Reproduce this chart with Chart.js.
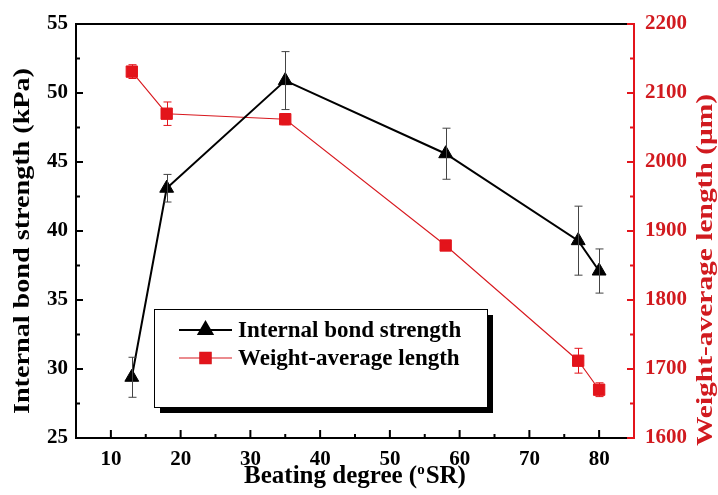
<!DOCTYPE html>
<html>
<head>
<meta charset="utf-8">
<script src="https://cdn.jsdelivr.net/npm/chart.js@4.4.1/dist/chart.umd.min.js"></script>
<style>
  html, body { margin: 0; padding: 0; background: #fff; }
  #wrap { width: 718px; height: 495px; }
</style>
</head>
<body>
<div id="wrap"><canvas id="chart" width="718" height="495"></canvas></div>
<script>
// donnees
var beating = [13, 18, 35, 58, 77, 80];
var bondStrength = [29.4, 43.1, 50.9, 45.6, 39.3, 37.1];
var bondErr = [1.45, 1.0, 2.1, 1.85, 2.5, 1.6];
var fiberLength = [2131, 2070, 2062, 1879, 1712, 1670];
var fiberErr = [10, 17, 8, 4, 18, 10];

var xTicks = [10, 20, 30, 40, 50, 60, 70, 80];
var leftTicks = [25, 30, 35, 40, 45, 50, 55];
var rightTicks = [1600, 1700, 1800, 1900, 2000, 2100, 2200];

var FONT = "'Liberation Serif', 'Times New Roman', serif";
var RED = '#e3141b';
var RED_TXT = '#d11a1f';

function pts(ys) {
    return beating.map(function(x, i) { return { x: x, y: ys[i] }; });
}

// barres d'erreur, traits de graduation vers l'interieur, cadre du haut
var decorations = {
    id: 'decorations',
    afterDatasetsDraw: function(chart) {
        var ctx = chart.ctx;
        var a = chart.chartArea;
        var sx = chart.scales.x, yl = chart.scales.y, yr = chart.scales.y1;

        function errBars(ys, errs, scale, color, cap) {
            ctx.save();
            ctx.strokeStyle = color;
            ctx.lineWidth = 1;
            ys.forEach(function(v, i) {
                var px = Math.round(sx.getPixelForValue(beating[i])) + 0.5;
                var top = scale.getPixelForValue(v + errs[i]);
                var bot = scale.getPixelForValue(v - errs[i]);
                ctx.beginPath();
                ctx.moveTo(px, top); ctx.lineTo(px, bot);
                ctx.moveTo(px - cap, top); ctx.lineTo(px + cap, top);
                ctx.moveTo(px - cap, bot); ctx.lineTo(px + cap, bot);
                ctx.stroke();
            });
            ctx.restore();
        }
        errBars(bondStrength, bondErr, yl, '#444', 4);
        errBars(fiberLength, fiberErr, yr, RED, 4);

        ctx.save();
        ctx.lineWidth = 2;
        // x ticks
        ctx.strokeStyle = '#000';
        ctx.beginPath();
        xTicks.forEach(function(v, i) {
            var p = sx.getPixelForValue(v);
            ctx.moveTo(p, a.bottom); ctx.lineTo(p, a.bottom - 8);
            var m = sx.getPixelForValue(v + 5);
            if (m < a.right - 2) { ctx.moveTo(m, a.bottom); ctx.lineTo(m, a.bottom - 4); }
        });
        // left ticks
        leftTicks.forEach(function(v, i) {
            var p = yl.getPixelForValue(v);
            ctx.moveTo(a.left, p); ctx.lineTo(a.left + 7, p);
            if (i < leftTicks.length - 1) {
                var m = yl.getPixelForValue(v + 2.5);
                ctx.moveTo(a.left, m); ctx.lineTo(a.left + 4, m);
            }
        });
        // top frame
        ctx.moveTo(a.left - 1, a.top); ctx.lineTo(a.right - 7, a.top);
        ctx.stroke();
        // right ticks
        ctx.strokeStyle = RED;
        ctx.beginPath();
        rightTicks.forEach(function(v, i) {
            var p = yr.getPixelForValue(v);
            ctx.moveTo(a.right, p); ctx.lineTo(a.right - 7, p);
            if (i < rightTicks.length - 1) {
                var m = yr.getPixelForValue(v + 50);
                ctx.moveTo(a.right, m); ctx.lineTo(a.right - 4, m);
            }
        });
        ctx.moveTo(a.right - 7, a.top); ctx.lineTo(a.right + 1, a.top);
        ctx.moveTo(a.right - 7, a.bottom); ctx.lineTo(a.right + 1, a.bottom);
        ctx.stroke();
        ctx.restore();
    }
};

// texte vertical etire a une longueur donnee
function vText(ctx, txt, cx, cy, len, color) {
    ctx.save();
    ctx.fillStyle = color;
    ctx.font = 'bold 23px ' + FONT;
    ctx.textAlign = 'center';
    ctx.textBaseline = 'middle';
    var w = ctx.measureText(txt).width;
    ctx.translate(cx, cy);
    ctx.rotate(-Math.PI / 2);
    ctx.scale(len / w, 1);
    ctx.fillText(txt, 0, 0);
    ctx.restore();
}

// titres des axes et legende encadree
var titlesAndLegend = {
    id: 'titlesAndLegend',
    afterDraw: function(chart) {
        var ctx = chart.ctx;
        var a = chart.chartArea;
        ctx.save();

        vText(ctx, 'Internal bond strength (kPa)', 23, 241, 346, '#000');
        vText(ctx, 'Weight-average length (\u03bcm)', 706, 270, 352, RED_TXT);

        // axe x avec exposant
        ctx.fillStyle = '#000';
        ctx.textAlign = 'left';
        ctx.textBaseline = 'alphabetic';
        var big = 'bold 25px ' + FONT, small = 'bold 15px ' + FONT;
        var p1 = 'Beating degree (', p3 = 'SR)';
        ctx.font = big;
        var w1 = ctx.measureText(p1).width, w3 = ctx.measureText(p3).width;
        ctx.font = small;
        var w2 = ctx.measureText('o').width + 1;
        var x0 = (a.left + a.right) / 2 - (w1 + w2 + w3) / 2;
        var base = 483;
        ctx.font = big;
        ctx.fillText(p1, x0, base);
        ctx.font = small;
        ctx.fillText('o', x0 + w1, base - 9);
        ctx.font = big;
        ctx.fillText(p3, x0 + w1 + w2, base);

        // legende
        var bx = 154, by = 309, bw = 333, bh = 98;
        ctx.fillStyle = '#000';
        ctx.fillRect(bx + 6, by + 6, bw, bh);
        ctx.fillStyle = '#fff';
        ctx.fillRect(bx, by, bw, bh);
        ctx.strokeStyle = '#000';
        ctx.lineWidth = 1;
        ctx.strokeRect(bx + 0.5, by + 0.5, bw, bh);

        chart.data.datasets.forEach(function(ds, i) {
            var yy = 330 + i * 28;
            ctx.strokeStyle = ds.borderColor;
            ctx.lineWidth = ds.borderWidth;
            ctx.beginPath();
            ctx.moveTo(179, yy); ctx.lineTo(232, yy);
            ctx.stroke();
            Chart.helpers.drawPoint(ctx, {
                pointStyle: ds.pointStyle,
                radius: ds.pointRadius,
                borderWidth: 1,
                rotation: 0
            }, 205.5, yy);
            ctx.fillStyle = ds.pointBackgroundColor;
            ctx.fill();
            ctx.fillStyle = '#000';
            ctx.font = 'bold 23px ' + FONT;
            ctx.textAlign = 'left';
            ctx.textBaseline = 'middle';
            ctx.fillText(ds.label, 238, yy + 1);
        });
        ctx.restore();
    }
};

var tickFont = { family: FONT, size: 21, weight: 'bold' };
function plain(v) { return String(v); }

var ctx = document.getElementById('chart').getContext('2d');
var chart = new Chart(ctx, {
    type: 'scatter',
    data: {
        datasets: [{
            label: 'Internal bond strength',
            data: pts(bondStrength),
            yAxisID: 'y',
            showLine: true,
            borderColor: '#000',
            borderWidth: 2,
            pointStyle: 'triangle',
            pointRadius: 8,
            pointBackgroundColor: '#000',
            pointBorderColor: '#000',
            pointBorderWidth: 1
        }, {
            label: 'Weight-average length',
            data: pts(fiberLength),
            yAxisID: 'y1',
            showLine: true,
            borderColor: '#d8191f',
            borderWidth: 1.1,
            pointStyle: 'rect',
            pointRadius: 8,
            pointBackgroundColor: RED,
            pointBorderColor: RED,
            pointBorderWidth: 1
        }]
    },
    options: {
        responsive: false,
        animation: false,
        layout: { padding: { top: 24, left: 0, right: 0, bottom: 0 } },
        plugins: {
            legend: { display: false },
            tooltip: { enabled: false }
        },
        scales: {
            x: {
                type: 'linear',
                min: 5,
                max: 85,
                afterBuildTicks: function(s) { s.ticks = xTicks.map(function(v) { return { value: v }; }); },
                afterFit: function(s) { s.height = 57; },
                grid: { display: false, drawTicks: false },
                border: { display: true, color: '#000', width: 2 },
                ticks: { color: '#000', padding: 9, font: tickFont, callback: plain }
            },
            y: {
                position: 'left',
                min: 25,
                max: 55,
                afterBuildTicks: function(s) { s.ticks = leftTicks.map(function(v) { return { value: v }; }); },
                afterFit: function(s) { s.width = 76; },
                grid: { display: false, drawTicks: false },
                border: { display: true, color: '#000', width: 2 },
                ticks: { color: '#000', padding: 8, font: tickFont, callback: plain }
            },
            y1: {
                position: 'right',
                min: 1600,
                max: 2200,
                afterBuildTicks: function(s) { s.ticks = rightTicks.map(function(v) { return { value: v }; }); },
                afterFit: function(s) { s.width = 84; },
                grid: { display: false, drawTicks: false },
                border: { display: true, color: RED, width: 2 },
                ticks: { color: RED_TXT, padding: 11, font: tickFont, callback: plain }
            }
        }
    },
    plugins: [decorations, titlesAndLegend]
});
</script>
</body>
</html>
